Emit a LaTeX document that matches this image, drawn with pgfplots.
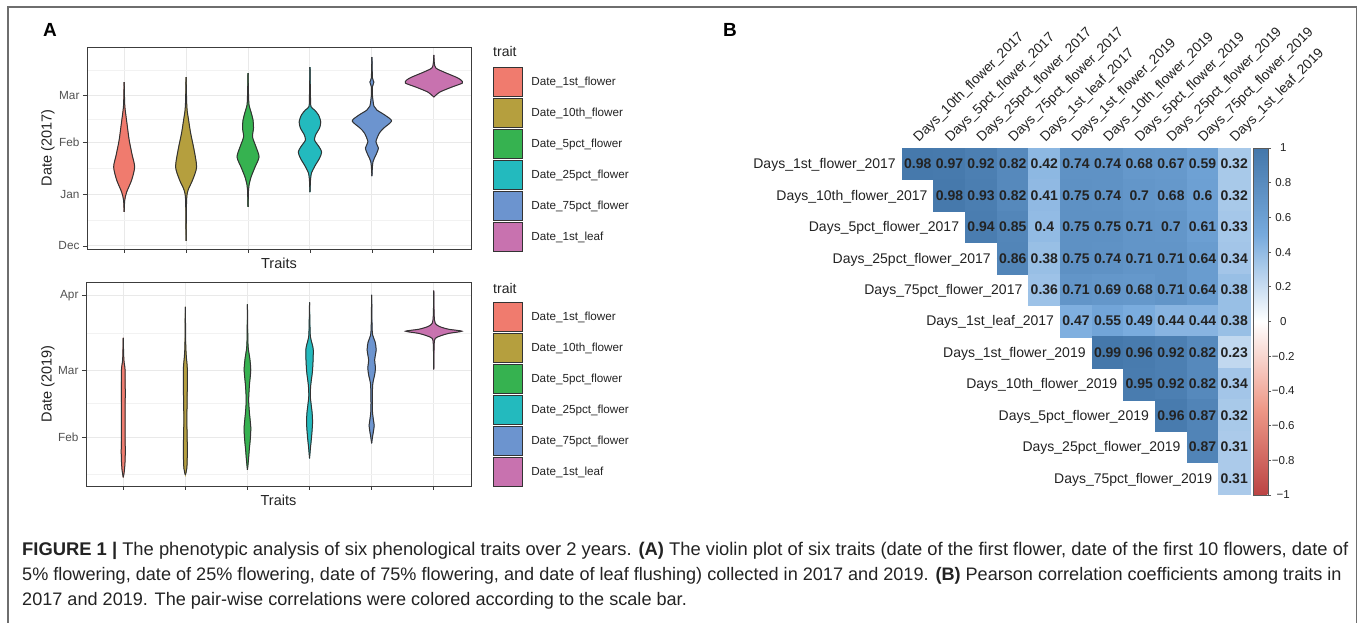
\documentclass[border=0pt]{standalone}
\usepackage{fontspec}
\setmainfont{Liberation Sans}
\usepackage{pgfplots}
\usepackage{pgfplotstable}
\pgfplotsset{compat=1.18}

\definecolor{cR}{RGB}{240,123,110}
\definecolor{cO}{RGB}{181,159,62}
\definecolor{cG}{RGB}{54,178,80}
\definecolor{cT}{RGB}{35,186,190}
\definecolor{cB}{RGB}{108,148,207}
\definecolor{cP}{RGB}{200,114,175}
\definecolor{outl}{RGB}{51,51,51}
\definecolor{axc}{RGB}{60,60,60}
\definecolor{gridc}{RGB}{233,233,233}
\definecolor{framec}{RGB}{110,110,110}
\definecolor{txt}{RGB}{35,35,35}

\newcommand\fs[1]{\fontsize{#1}{#1}\selectfont}

% ---- violin profiles 2017 (d = days since 1 Dec 2016, w = half width in px)
\pgfplotstableread{
d w
20.4 0
27.5 0.6
32.3 2.5
39.5 7.5
47.3 10.5
54.5 8
63.5 5
72.5 3
78.4 1.7
84.4 0.6
98.2 0
}\tA
\pgfplotstableread{
d w
3 0
27.5 0.5
33.5 2
39.5 6.5
47.3 10.5
57.5 8
67.7 4.5
75.4 2.5
81.4 1
87.4 0.5
101.2 0
}\tB
\pgfplotstableread{
d w
23.4 0
33.5 0.5
36.5 1
41.3 3
47.3 7
53.3 11
59.3 8
65.3 4.5
70.7 5.5
75.4 5
80.2 3
84.4 1
90.4 0.5
103.6 0
}\tC
\pgfplotstableread{
d w
32.3 0
40 0.6
43.7 1.5
48 5
52.5 9.5
56.3 11.7
59.5 9
63.5 4.5
67 6
70.5 9.5
74.3 10.8
78.5 8.5
81.5 4.5
83.5 1
90 0.5
107.2 0
}\tD
\pgfplotstableread{
d w
41.9 0
50.3 1
54.5 4
58.7 6.5
62.4 4
67.7 7.5
70.7 12
74.9 19.7
78.4 13
81.4 5
83.8 2
90.4 0.5
95.5 0.6
98.2 2
100.6 0.6
113.2 0
}\tE
\pgfplotstableread{
d w
89.2 0
92.2 6
95.2 18
97.6 28.5
99.5 27
101.2 22
104.2 10
106.6 2
109.6 0.5
114.4 0
}\tF
% ---- violin profiles 2019 (d = days since 1 Feb 2019)
\pgfplotstableread{
d w
-16.7 0
-13.6 1.2
-7.4 2
7.2 1.8
17.6 2
28 1.8
31.4 0.8
34.3 0.4
41.4 0
}\uA
\pgfplotstableread{
d w
-15.7 0
-12.8 1.5
-5.3 2
7.2 1.5
15.5 1.8
28 2
33.5 1
38.5 0.4
54.3 0
}\uB
\pgfplotstableread{
d w
-13.6 0
-9.5 1
-5.3 1.8
0.1 3
4.3 3.3
10.1 2
15.5 1.2
21.8 2
28 3.3
33 2.3
36.4 1
40.5 0.4
55.4 0
}\uC
\pgfplotstableread{
d w
-8.75 0
-4 1
0.1 2
6 3
10.5 2.5
16.8 0.8
21.8 1.2
28 3
36.4 3.7
40.6 1.5
43.5 0.6
56.2 0
}\uD
\pgfplotstableread{
d w
-2.5 0
0.5 1
3 2
5.1 2.5
8 1.5
11.4 0.7
17.6 0.7
22.6 1.2
26 3
28.9 3.8
32.2 3
36.4 4.5
39.7 3.5
42.6 1
46.8 0.4
59.3 0
}\uE
\pgfplotstableread{
d w
28.3 0
38.5 0.4
41.2 1.5
42.3 7
43.3 15
44.2 28
45 15
46.1 6
47.5 1.5
51 0.4
61.1 0
}\uF

% ---- correlation matrix (upper triangle)
\pgfplotstableread{
x y v
0 0 0.98
1 0 0.97
2 0 0.92
3 0 0.82
4 0 0.42
5 0 0.74
6 0 0.74
7 0 0.68
8 0 0.67
9 0 0.59
10 0 0.32
1 1 0.98
2 1 0.93
3 1 0.82
4 1 0.41
5 1 0.75
6 1 0.74
7 1 0.7
8 1 0.68
9 1 0.6
10 1 0.32
2 2 0.94
3 2 0.85
4 2 0.4
5 2 0.75
6 2 0.75
7 2 0.71
8 2 0.7
9 2 0.61
10 2 0.33
3 3 0.86
4 3 0.38
5 3 0.75
6 3 0.74
7 3 0.71
8 3 0.71
9 3 0.64
10 3 0.34
4 4 0.36
5 4 0.71
6 4 0.69
7 4 0.68
8 4 0.71
9 4 0.64
10 4 0.38
5 5 0.47
6 5 0.55
7 5 0.49
8 5 0.44
9 5 0.44
10 5 0.38
6 6 0.99
7 6 0.96
8 6 0.92
9 6 0.82
10 6 0.23
7 7 0.95
8 7 0.92
9 7 0.82
10 7 0.34
8 8 0.96
9 8 0.87
10 8 0.32
9 9 0.87
10 9 0.31
10 10 0.31
}\hm

\pgfplotstableread{
x y k
-0.5 0 a
0.5 1 b
1.5 2 c
2.5 3 d
3.5 4 e
4.5 5 f
5.5 6 g
6.5 7 h
7.5 8 i
8.5 9 j
9.5 10 k
}\rows

\newcommand\rla{Days\_1st\_flower\_2017}
\newcommand\rlb{Days\_10th\_flower\_2017}
\newcommand\rlc{Days\_5pct\_flower\_2017}
\newcommand\rld{Days\_25pct\_flower\_2017}
\newcommand\rle{Days\_75pct\_flower\_2017}
\newcommand\rlf{Days\_1st\_leaf\_2017}
\newcommand\rlg{Days\_1st\_flower\_2019}
\newcommand\rlh{Days\_10th\_flower\_2019}
\newcommand\rli{Days\_5pct\_flower\_2019}
\newcommand\rlj{Days\_25pct\_flower\_2019}
\newcommand\rlk{Days\_75pct\_flower\_2019}

\pgfplotsset{
  violinaxis/.style={
    scale only axis, xmin=0.4, xmax=6.6,
    xtick={1,2,3,4,5,6}, xticklabels={},
    tick align=outside, major tick length=4pt, minor tick length=0pt,
    xtick pos=bottom, ytick pos=left,
    tick style={draw=axc, line width=0.8pt},
    axis line style={draw=axc, line width=0.85pt},
    grid=both,
    major grid style={draw=gridc, line width=1pt},
    minor grid style={draw=gridc!60, line width=0.6pt},
    yticklabel style={font=\fs{11.8}, text=black!68},
    xlabel={Traits},
    xlabel style={font=\fs{14.5}, text=txt, at={(axis description cs:0.5,-0.069)}, anchor=center},
    ylabel style={font=\fs{14.5}, text=txt, anchor=center},
    legend style={at={(1,1)}, anchor=north west, xshift=22pt, yshift=-20pt,
      draw=none, fill=none, inner sep=0pt, row sep=0.9pt, column sep=8pt,
      nodes={inner sep=0pt, font=\fs{11.7}, text=txt}},
    legend cell align=left,
  },
  key/.style={legend image code/.code={\draw[fill=#1, draw=outl, line width=0.9pt] (0pt,-14.6pt) rectangle (29.2pt,14.6pt);}},
  vfill/.style={fill=#1, draw=#1, line width=0.6pt, forget plot, smooth, tension=0.45},
  vline/.style={draw=outl, line width=1pt, forget plot, smooth, tension=0.45},
}

\newcommand\violin[3]{%
  \addplot[vfill=#3] table[x expr=#1+\thisrow{w}/62, y=d] {#2} -- cycle;
  \addplot[vfill=#3] table[x expr=#1-\thisrow{w}/62, y=d] {#2} -- cycle;
  \addplot[vline] table[x expr=#1+\thisrow{w}/62, y=d] {#2};
  \addplot[vline] table[x expr=#1-\thisrow{w}/62, y=d] {#2};
}

\newcommand\keys{%
  \addlegendimage{key=cR}\addlegendentry{Date\_1st\_flower}
  \addlegendimage{key=cO}\addlegendentry{Date\_10th\_flower}
  \addlegendimage{key=cG}\addlegendentry{Date\_5pct\_flower}
  \addlegendimage{key=cT}\addlegendentry{Date\_25pct\_flower}
  \addlegendimage{key=cB}\addlegendentry{Date\_75pct\_flower}
  \addlegendimage{key=cP}\addlegendentry{Date\_1st\_leaf}
}

\begin{document}
\begin{tikzpicture}[x=1pt,y=1pt]
\useasboundingbox (0,0) rectangle (1363,623);
\fill[white] (0,0) rectangle (1363,623);

% ---------------- Panel A, 2017
\begin{axis}[violinaxis, name=vA, at={(87pt,374pt)}, anchor=south west,
  width=384pt, height=202pt, ymin=-1.8, ymax=119.2,
  ytick={0,31,62,90}, yticklabels={Dec,Jan,Feb,Mar},
  minor ytick={15.5,46.5,76,105.5},
  ylabel={Date (2017)}, ylabel style={at={(axis description cs:-0.102,0.5)}}]
\keys
\violin{1}{\tA}{cR}
\violin{2}{\tB}{cO}
\violin{3}{\tC}{cG}
\violin{4}{\tD}{cT}
\violin{5}{\tE}{cB}
\violin{6}{\tF}{cP}
\end{axis}
\node[anchor=base west, font=\fs{14}, text=txt, inner sep=0pt] at ([xshift=22pt, yshift=-9.5pt]vA.north east) {trait};

% ---------------- Panel A, 2019
\begin{axis}[violinaxis, name=vB, at={(86pt,137pt)}, anchor=south west,
  width=385pt, height=204pt, ymin=-20.3, ymax=64.7,
  ytick={0,28,59}, yticklabels={Feb,Mar,Apr},
  minor ytick={-15.5,14,43.5},
  ylabel={Date (2019)}, ylabel style={at={(axis description cs:-0.099,0.5)}}]
\keys
\violin{1}{\uA}{cR}
\violin{2}{\uB}{cO}
\violin{3}{\uC}{cG}
\violin{4}{\uD}{cT}
\violin{5}{\uE}{cB}
\violin{6}{\uF}{cP}
\end{axis}
\node[anchor=base west, font=\fs{14}, text=txt, inner sep=0pt] at ([xshift=22pt, yshift=-11pt]vB.north east) {trait};

% ---------------- Panel B, correlation heat map
\begin{axis}[name=hm, at={(902pt,129pt)}, anchor=south west,
  scale only axis, width=348pt, height=346pt,
  xmin=-0.5, xmax=10.5, ymin=-0.5, ymax=10.5, y dir=reverse,
  clip=false,
  axis line style={draw=none},
  xtick={0,1,2,3,4,5,6,7,8,9,10}, ytick=\empty,
  xtick style={draw=none}, major tick length=0pt,
  xticklabel pos=right,
  xticklabels={Days\_10th\_flower\_2017, Days\_5pct\_flower\_2017, Days\_25pct\_flower\_2017, Days\_75pct\_flower\_2017, Days\_1st\_leaf\_2017, Days\_1st\_flower\_2019, Days\_10th\_flower\_2019, Days\_5pct\_flower\_2019, Days\_25pct\_flower\_2019, Days\_75pct\_flower\_2019, Days\_1st\_leaf\_2019},
  xticklabel style={yshift=5pt, xshift=1pt, rotate=45, anchor=base west, inner sep=0pt, font=\fs{13.8}, text=txt},
  colormap={corr}{rgb255=(187,68,68) rgb255=(238,153,136) rgb255=(255,255,255) rgb255=(119,170,221) rgb255=(68,119,170)},
  point meta min=-1, point meta max=1,
  colorbar,
  colorbar style={at={(parent axis.north east)}, anchor=north west, xshift=-5.5pt,
    scale only axis, width=15pt, height=347pt,
    axis line style={draw=black!65, line width=0.8pt},
    ytick={-1,-0.8,-0.6,-0.4,-0.2,0,0.2,0.4,0.6,0.8,1},
    yticklabels={−1,−0.8,−0.6,−0.4,−0.2,0,0.2,0.4,0.6,0.8,1},
    ytick pos=right, yticklabel pos=right, tick align=outside,
    major tick length=3pt, ytick style={draw=black!65, line width=0.6pt},
    yticklabel style={font=\fs{11.5}, text=txt, text width=24pt, align=center, inner sep=0pt}},
]
\addplot[scatter, only marks, mark=square*, mark size=15.8pt,
  scatter/use mapped color={draw=mapped color, fill=mapped color},
  point meta=explicit] table[x=x, y=y, meta=v] {\hm};
\addplot[only marks, mark=*, mark size=0pt, mark options={draw=none, fill=none},
  point meta=explicit,
  nodes near coords={\pgfmathprintnumber[fixed, precision=2, assume math mode=true]{\pgfplotspointmeta}},
  every node near coord/.append style={anchor=base, yshift=-5pt, inner sep=0pt, font=\bfseries\fs{14}, text=txt}]
  table[x=x, y=y, meta=v] {\hm};
\addplot[only marks, mark=*, mark size=0pt, mark options={draw=none, fill=none},
  point meta=explicit symbolic,
  nodes near coords={\csname rl\pgfplotspointmeta\endcsname},
  every node near coord/.append style={anchor=base east, xshift=-6pt, yshift=-5pt, inner sep=0pt, font=\fs{14}, text=txt}]
  table[x=x, y=y, meta=k] {\rows};
\end{axis}

% ---------------- panel letters, frame, caption
\node[anchor=base west, font=\bfseries\fs{19}, inner sep=0pt] at (43,586) {A};
\node[anchor=base west, font=\bfseries\fs{19}, inner sep=0pt] at (723,586) {B};
\draw[framec, line width=1.4pt] (8,-3) -- (8,616) -- (1356.5,616) -- (1356.5,-3);

\node[anchor=base west, font=\fs{18.37}, text=txt, inner sep=0pt] at (22,67)
  {\textbf{FIGURE 1 |} The phenotypic analysis of six phenological traits over 2 years. \textbf{(A)} The violin plot of six traits (date of the first flower, date of the first 10 flowers, date of};
\node[anchor=base west, font=\fs{18.1}, text=txt, inner sep=0pt] at (22,42)
  {5\% flowering, date of 25\% flowering, date of 75\% flowering, and date of leaf flushing) collected in 2017 and 2019. \textbf{(B)} Pearson correlation coefficients among traits in};
\node[anchor=base west, font=\fs{18.1}, text=txt, inner sep=0pt] at (22,17)
  {2017 and 2019. The pair-wise correlations were colored according to the scale bar.};
\end{tikzpicture}
\end{document}
